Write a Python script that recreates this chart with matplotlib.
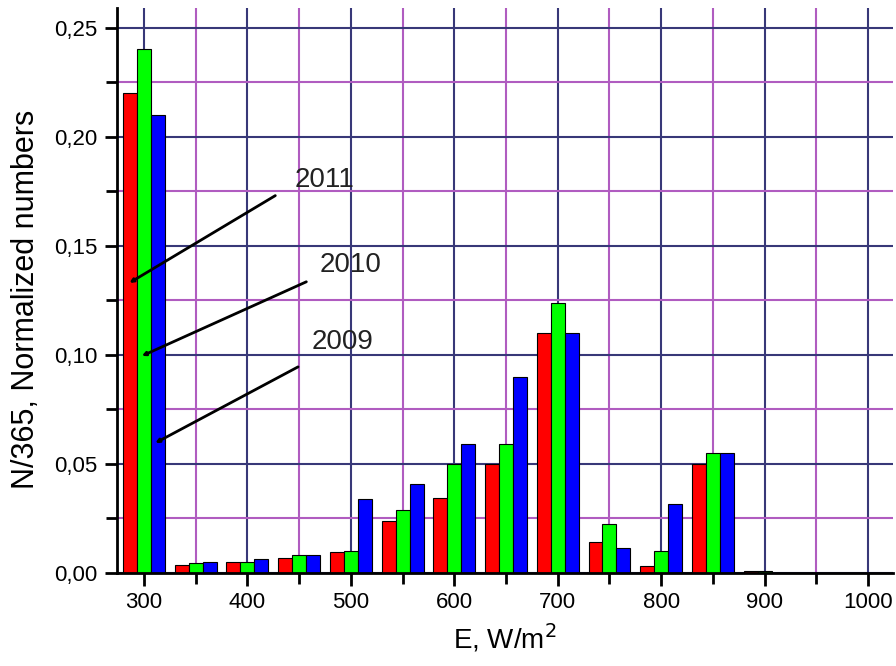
import numpy as np
import matplotlib
matplotlib.use("Agg")
import matplotlib.pyplot as plt
from matplotlib.ticker import MultipleLocator, FuncFormatter

plt.rcParams["font.family"] = ["Liberation Sans", "DejaVu Sans"]

energy = [300, 350, 400, 450, 500, 550, 600, 650, 700, 750, 800, 850, 900]
y2011 = [0.220, 0.0035, 0.005, 0.007, 0.0095, 0.024, 0.0345, 0.050, 0.110, 0.014, 0.0032, 0.050, 0.0007]
y2010 = [0.240, 0.0045, 0.005, 0.0082, 0.010, 0.029, 0.050, 0.059, 0.124, 0.0225, 0.010, 0.055, 0.0007]
y2009 = [0.210, 0.005, 0.0064, 0.0082, 0.034, 0.041, 0.059, 0.090, 0.110, 0.0115, 0.0316, 0.055, 0.0]

x = np.array(energy)
w = 13.5

fig = plt.figure(figsize=(8.96, 6.66), dpi=100)
ax = fig.add_axes([0.1306, 0.1396, 0.866, 0.8484])

ax.bar(x - w, y2011, width=w, color="#ff0000", edgecolor="black", linewidth=0.8, zorder=3)
ax.bar(x, y2010, width=w, color="#00ff00", edgecolor="black", linewidth=0.8, zorder=3)
ax.bar(x + w, y2009, width=w, color="#0000ff", edgecolor="black", linewidth=0.8, zorder=3)

ax.set_xlim(274, 1024)
ax.set_ylim(0, 0.259)

ax.xaxis.set_major_locator(MultipleLocator(100))
ax.xaxis.set_minor_locator(MultipleLocator(50))
ax.yaxis.set_major_locator(MultipleLocator(0.05))
ax.yaxis.set_minor_locator(MultipleLocator(0.025))
ax.yaxis.set_major_formatter(FuncFormatter(lambda v, p: f"{v:.2f}".replace(".", ",")))

ax.grid(which="major", color="#383878", linewidth=1.5, zorder=0)
ax.grid(which="minor", color="#b05cc0", linewidth=1.5, zorder=0)
ax.set_axisbelow(True)

for s in ["top", "right"]:
    ax.spines[s].set_visible(False)
for s in ["left", "bottom"]:
    ax.spines[s].set_linewidth(2)
    ax.spines[s].set_zorder(4)

ax.tick_params(which="major", direction="out", length=9, width=2, labelsize=16, pad=5)
ax.tick_params(which="minor", direction="out", length=8, width=2)

ax.set_xlabel("E, W/m$^2$", fontsize=20, labelpad=6)
ax.set_ylabel("N/365, Normalized numbers", fontsize=22)
ax.yaxis.set_label_coords(-0.098, 0.485)

annots = [("2011", (475, 0.180), (427, 0.173), (286, 0.133)),
          ("2010", (500, 0.141), (457, 0.1335), (298, 0.0995)),
          ("2009", (492, 0.106), (449, 0.0945), (311, 0.0596))]
for label, tpos, start, end in annots:
    ax.annotate("", xy=end, xytext=start,
                arrowprops=dict(arrowstyle="-|>", color="black", lw=2, mutation_scale=5,
                                shrinkA=0, shrinkB=0), zorder=5)
    ax.text(tpos[0], tpos[1], label, fontsize=20, ha="center", va="center",
            color="#222222", zorder=5)

fig.savefig("out.png", dpi=100)
